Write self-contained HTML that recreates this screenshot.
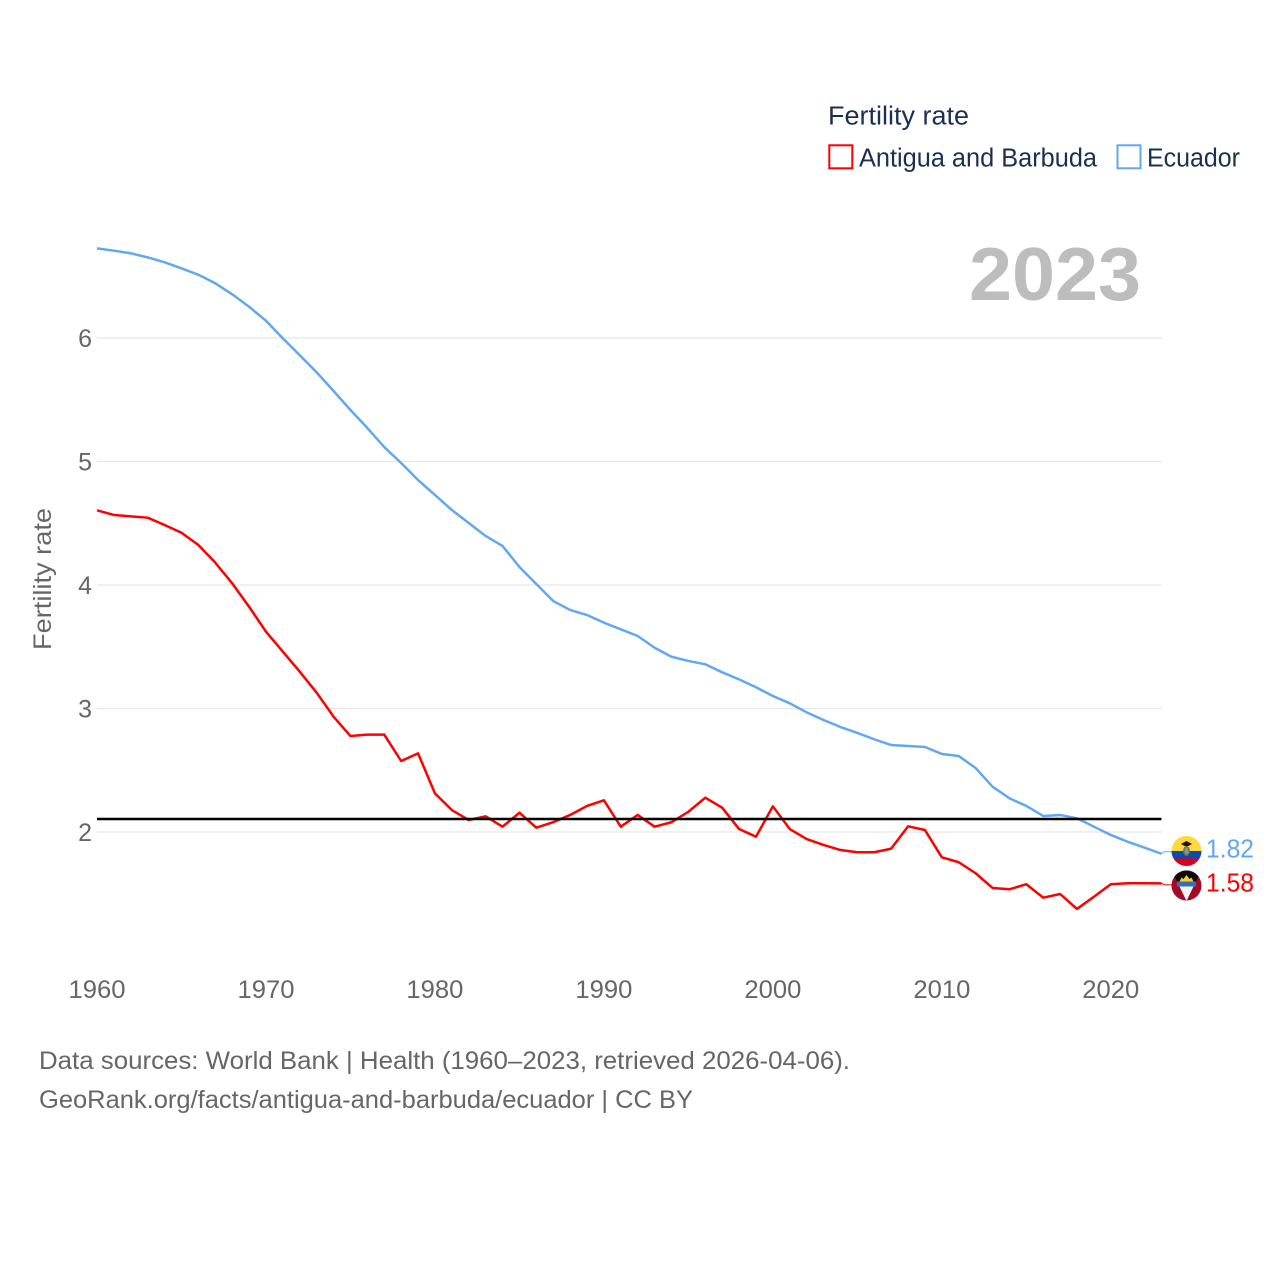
<!DOCTYPE html>
<html lang="en">
<head>
<meta charset="utf-8">
<title>Fertility rate: Antigua and Barbuda vs Ecuador</title>
<style>
html,body{margin:0;padding:0;background:#fff;width:1280px;height:1280px;overflow:hidden}
svg{display:block}
text{font-family:"Liberation Sans",sans-serif}
.navy{fill:#1b3050;font-size:25.5px}
.grey{fill:#666;font-size:25px}
</style>
</head>
<body>
<svg id="chart" width="1280" height="1280" viewBox="0 0 1280 1280" xmlns="http://www.w3.org/2000/svg">
  <defs>
    <clipPath id="clip-ec"><circle cx="1186.5" cy="851" r="15"/></clipPath>
    <clipPath id="clip-ag"><circle cx="1186.5" cy="885.5" r="15"/></clipPath>
  </defs>
  <g id="grid"></g>
  <g id="y-ticks"></g>
  <g id="x-ticks"></g>
  <g id="series"></g>

  <text class="grey" transform="translate(51,650) rotate(-90)" textLength="142" lengthAdjust="spacingAndGlyphs" font-size="25">Fertility rate</text>

  <g>
    <text class="navy" x="828" y="124.5" textLength="141" lengthAdjust="spacingAndGlyphs">Fertility rate</text>
    <g>
      <rect x="829.3" y="145.3" width="23" height="23" fill="none" stroke="#ff0000" stroke-width="2"/>
      <text class="navy" x="859" y="166.5" textLength="238" lengthAdjust="spacingAndGlyphs">Antigua and Barbuda</text>
    </g>
    <g>
      <rect x="1117.5" y="145.3" width="23" height="23" fill="none" stroke="#62a8ee" stroke-width="2"/>
      <text class="navy" x="1147" y="166.5" textLength="93" lengthAdjust="spacingAndGlyphs">Ecuador</text>
    </g>
  </g>

  <text id="year-label" x="969" y="300" font-size="75" font-weight="700" fill="#bdbdbd" textLength="172" lengthAdjust="spacingAndGlyphs"></text>

  <g id="flag-ec">
    <g clip-path="url(#clip-ec)">
      <rect x="1171" y="836" width="31" height="15" fill="#ffd83d"/>
      <rect x="1171" y="851" width="31" height="7.5" fill="#0a4bb0"/>
      <rect x="1171" y="858.5" width="31" height="9" fill="#d8001e"/>
      <path d="M1181 844 L1186.5 841 L1192 844 L1188.5 846 L1184.5 846 Z" fill="#1a1a1a"/>
      <ellipse cx="1186.5" cy="851" rx="3.4" ry="5" fill="#8a6d1e"/>
      <ellipse cx="1186.5" cy="851" rx="2" ry="3.4" fill="#5aa0d8"/>
    </g>
  </g>
  <g id="flag-ag">
    <g clip-path="url(#clip-ag)">
      <rect x="1171" y="870" width="31" height="31" fill="#a50a24"/>
      <path d="M1171.5 870 H1201.5 L1186.5 901 Z" fill="#0b0b0b"/>
      <path d="M1178.5 884.5 H1194.5 L1186.5 901 Z" fill="#f4f4f4"/>
      <rect x="1177" y="881.5" width="19" height="5" fill="#2f6fbc"/>
      <path d="M1179.5 881.5 L1181.5 877.5 L1183.5 879 L1186.5 875 L1189.5 879 L1191.5 877.5 L1193.5 881.5 Z" fill="#f5cf2c"/>
    </g>
  </g>

  <g>
    <text class="grey" x="39" y="1069" textLength="811" lengthAdjust="spacingAndGlyphs">Data sources: World Bank | Health (1960–2023, retrieved 2026-04-06).</text>
    <text class="grey" x="39" y="1108" textLength="654" lengthAdjust="spacingAndGlyphs">GeoRank.org/facts/antigua-and-barbuda/ecuador | CC BY</text>
  </g>
</svg>
<script>
const firstYear = 1960;
const yTickValues = [2, 3, 4, 5, 6];
const xTickYears = [1960, 1970, 1980, 1990, 2000, 2010, 2020];
const replacementLevel = 2.105;
const antiguaValues = [
  4.605, 4.567, 4.556, 4.545, 4.486, 4.423, 4.324, 4.181, 4.014, 3.824,
  3.622, 3.460, 3.298, 3.128, 2.934, 2.777, 2.788, 2.788, 2.575, 2.637,
  2.313, 2.178, 2.097, 2.127, 2.043, 2.156, 2.035, 2.079, 2.138, 2.211,
  2.257, 2.043, 2.138, 2.043, 2.079, 2.164, 2.278, 2.197, 2.024, 1.962,
  2.208, 2.024, 1.943, 1.895, 1.854, 1.836, 1.836, 1.865, 2.046, 2.016,
  1.795, 1.755, 1.666, 1.547, 1.536, 1.577, 1.468, 1.498, 1.377, 1.476,
  1.577, 1.585, 1.585, 1.584
];
const ecuadorValues = [
  6.726, 6.707, 6.686, 6.653, 6.613, 6.564, 6.512, 6.443, 6.354, 6.253,
  6.140, 5.997, 5.860, 5.722, 5.571, 5.417, 5.271, 5.117, 4.988, 4.850,
  4.729, 4.607, 4.502, 4.397, 4.316, 4.146, 4.008, 3.870, 3.798, 3.757,
  3.695, 3.641, 3.587, 3.492, 3.419, 3.385, 3.358, 3.293, 3.236, 3.172,
  3.101, 3.042, 2.969, 2.907, 2.850, 2.802, 2.751, 2.704, 2.696, 2.688,
  2.632, 2.615, 2.518, 2.367, 2.273, 2.211, 2.130, 2.138, 2.111, 2.043,
  1.976, 1.921, 1.873, 1.824
];

const NS = 'http://www.w3.org/2000/svg';
const plotLeft = 97;
const plotRight = 1161.5;
const yearCount = antiguaValues.length;
function xScale(year) {
  return plotLeft + (year - firstYear) * (plotRight - plotLeft) / (yearCount - 1);
}
function yScale(v) {
  return 832 - (v - 2) * 123.5;
}
function pointsFor(values) {
  return values.map(function (v, i) {
    return xScale(firstYear + i).toFixed(2) + ',' + yScale(v).toFixed(2);
  }).join(' ');
}
const svg = document.getElementById('chart');
const gridG = document.getElementById('grid');
const yG = document.getElementById('y-ticks');
const xG = document.getElementById('x-ticks');
const seriesG = document.getElementById('series');

yTickValues.forEach(function (t) {
  const line = document.createElementNS(NS, 'line');
  
  
  line.setAttribute('x1', plotLeft);
  line.setAttribute('x2', plotRight);
  line.setAttribute('y1', yScale(t));
  line.setAttribute('y2', yScale(t));
  line.setAttribute('stroke', '#e6e6e6');
  line.setAttribute('stroke-width', '1.3');
  gridG.appendChild(line);

  const label = document.createElementNS(NS, 'text');
  
  
  label.setAttribute('x', 92);
  label.setAttribute('y', yScale(t) + 9);
  label.setAttribute('text-anchor', 'end');
  label.setAttribute('class', 'grey');
  label.textContent = t;
  yG.appendChild(label);
});

xTickYears.forEach(function (yr) {
  const label = document.createElementNS(NS, 'text');
  
  
  label.setAttribute('x', xScale(yr) - 28.5);
  label.setAttribute('y', 998);
  label.setAttribute('class', 'grey');
  label.setAttribute('textLength', '57');
  label.setAttribute('lengthAdjust', 'spacingAndGlyphs');
  label.textContent = yr;
  xG.appendChild(label);
});

const antiguaLine = document.createElementNS(NS, 'polyline');


antiguaLine.setAttribute('points', pointsFor(antiguaValues));
antiguaLine.setAttribute('fill', 'none');
antiguaLine.setAttribute('stroke', '#ff0000');
antiguaLine.setAttribute('stroke-width', '2.5');
antiguaLine.setAttribute('stroke-linejoin', 'round');
seriesG.appendChild(antiguaLine);

const ecuadorLine = document.createElementNS(NS, 'polyline');


ecuadorLine.setAttribute('points', pointsFor(ecuadorValues));
ecuadorLine.setAttribute('fill', 'none');
ecuadorLine.setAttribute('stroke', '#62a8ee');
ecuadorLine.setAttribute('stroke-width', '2.5');
ecuadorLine.setAttribute('stroke-linejoin', 'round');
seriesG.appendChild(ecuadorLine);

const refLine = document.createElementNS(NS, 'line');


refLine.setAttribute('x1', plotLeft);
refLine.setAttribute('x2', plotRight);
refLine.setAttribute('y1', yScale(replacementLevel));
refLine.setAttribute('y2', yScale(replacementLevel));
refLine.setAttribute('stroke', '#000');
refLine.setAttribute('stroke-width', '2.5');
seriesG.appendChild(refLine);

const lastYear = firstYear + yearCount - 1;
const lastEc = ecuadorValues[yearCount - 1];
const lastAg = antiguaValues[yearCount - 1];

const ecConnector = document.createElementNS(NS, 'polyline');


ecConnector.setAttribute('points', xScale(lastYear) + ',' + yScale(lastEc) + ' ' + (xScale(lastYear) + 3) + ',' + (yScale(lastEc) - 2) + ' 1172,' + (yScale(lastEc) - 2));
ecConnector.setAttribute('fill', 'none');
ecConnector.setAttribute('stroke', '#62a8ee');
ecConnector.setAttribute('stroke-width', '1');
seriesG.appendChild(ecConnector);

const agConnector = document.createElementNS(NS, 'polyline');


agConnector.setAttribute('points', xScale(lastYear) + ',' + yScale(lastAg) + ' ' + (xScale(lastYear) + 3) + ',' + (yScale(lastAg) + 1.5) + ' 1172,' + (yScale(lastAg) + 1.5));
agConnector.setAttribute('fill', 'none');
agConnector.setAttribute('stroke', '#ff0000');
agConnector.setAttribute('stroke-width', '1');
seriesG.appendChild(agConnector);

const ecValueLabel = document.createElementNS(NS, 'text');


ecValueLabel.setAttribute('x', 1206);
ecValueLabel.setAttribute('y', yScale(lastEc) + 4);
ecValueLabel.setAttribute('fill', '#62a8ee');
ecValueLabel.setAttribute('font-size', '26');
ecValueLabel.setAttribute('textLength', '48');
ecValueLabel.setAttribute('lengthAdjust', 'spacingAndGlyphs');
ecValueLabel.textContent = lastEc.toFixed(2);
svg.appendChild(ecValueLabel);

const agValueLabel = document.createElementNS(NS, 'text');


agValueLabel.setAttribute('x', 1206);
agValueLabel.setAttribute('y', yScale(lastAg) + 8);
agValueLabel.setAttribute('fill', '#ff0000');
agValueLabel.setAttribute('font-size', '26');
agValueLabel.setAttribute('textLength', '48');
agValueLabel.setAttribute('lengthAdjust', 'spacingAndGlyphs');
agValueLabel.textContent = lastAg.toFixed(2);
svg.appendChild(agValueLabel);

document.getElementById('year-label').textContent = lastYear;
</script>
</body>
</html>
